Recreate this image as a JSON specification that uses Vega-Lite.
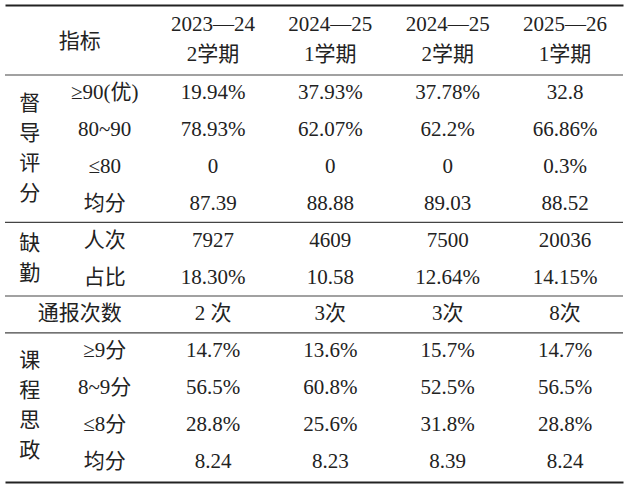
{
  "$schema": "https://vega.github.io/schema/vega-lite/v6.json",
  "width": 618,
  "height": 477,
  "autosize": {"type": "none"},
  "padding": {"left": 5, "right": 3, "top": 5, "bottom": 2},
  "background": "white",
  "config": {
    "view": {"stroke": null},
    "text": {"font": "'Liberation Serif', 'Noto Sans CJK SC'", "fontSize": 21, "color": "#222", "baseline": "middle", "align": "center"}
  },
  "datasets": {
    "cells": [
      {"row": 0, "col": 0, "kind": "corner", "t": "指标"},
      {"row": 0, "col": 1, "kind": "head", "t": "2023—24\n2学期"},
      {"row": 0, "col": 2, "kind": "head", "t": "2024—25\n1学期"},
      {"row": 0, "col": 3, "kind": "head", "t": "2024—25\n2学期"},
      {"row": 0, "col": 4, "kind": "head", "t": "2025—26\n1学期"},

      {"row": 2.5, "col": 0, "kind": "group4", "t": "督\n导\n评\n分"},
      {"row": 5.5, "col": 0, "kind": "group2", "t": "缺\n勤"},
      {"row": 9.5, "col": 0, "kind": "group4", "t": "课\n程\n思\n政"},
      {"row": 7, "col": 0, "kind": "span", "t": "通报次数"},

      {"row": 1, "col": 0, "kind": "sub", "t": "≥90(优)"},
      {"row": 2, "col": 0, "kind": "sub", "t": "80~90"},
      {"row": 3, "col": 0, "kind": "sub", "t": "≤80"},
      {"row": 4, "col": 0, "kind": "sub", "t": "均分"},
      {"row": 5, "col": 0, "kind": "sub", "t": "人次"},
      {"row": 6, "col": 0, "kind": "sub", "t": "占比"},
      {"row": 8, "col": 0, "kind": "sub", "t": "≥9分"},
      {"row": 9, "col": 0, "kind": "sub", "t": "8~9分"},
      {"row": 10, "col": 0, "kind": "sub", "t": "≤8分"},
      {"row": 11, "col": 0, "kind": "sub", "t": "均分"},

      {"row": 1, "col": 1, "kind": "data", "t": "19.94%"},
      {"row": 1, "col": 2, "kind": "data", "t": "37.93%"},
      {"row": 1, "col": 3, "kind": "data", "t": "37.78%"},
      {"row": 1, "col": 4, "kind": "data", "t": "32.8"},
      {"row": 2, "col": 1, "kind": "data", "t": "78.93%"},
      {"row": 2, "col": 2, "kind": "data", "t": "62.07%"},
      {"row": 2, "col": 3, "kind": "data", "t": "62.2%"},
      {"row": 2, "col": 4, "kind": "data", "t": "66.86%"},
      {"row": 3, "col": 1, "kind": "data", "t": "0"},
      {"row": 3, "col": 2, "kind": "data", "t": "0"},
      {"row": 3, "col": 3, "kind": "data", "t": "0"},
      {"row": 3, "col": 4, "kind": "data", "t": "0.3%"},
      {"row": 4, "col": 1, "kind": "data", "t": "87.39"},
      {"row": 4, "col": 2, "kind": "data", "t": "88.88"},
      {"row": 4, "col": 3, "kind": "data", "t": "89.03"},
      {"row": 4, "col": 4, "kind": "data", "t": "88.52"},
      {"row": 5, "col": 1, "kind": "data", "t": "7927"},
      {"row": 5, "col": 2, "kind": "data", "t": "4609"},
      {"row": 5, "col": 3, "kind": "data", "t": "7500"},
      {"row": 5, "col": 4, "kind": "data", "t": "20036"},
      {"row": 6, "col": 1, "kind": "data", "t": "18.30%"},
      {"row": 6, "col": 2, "kind": "data", "t": "10.58"},
      {"row": 6, "col": 3, "kind": "data", "t": "12.64%"},
      {"row": 6, "col": 4, "kind": "data", "t": "14.15%"},
      {"row": 7, "col": 1, "kind": "data", "t": "2 次"},
      {"row": 7, "col": 2, "kind": "data", "t": "3次"},
      {"row": 7, "col": 3, "kind": "data", "t": "3次"},
      {"row": 7, "col": 4, "kind": "data", "t": "8次"},
      {"row": 8, "col": 1, "kind": "data", "t": "14.7%"},
      {"row": 8, "col": 2, "kind": "data", "t": "13.6%"},
      {"row": 8, "col": 3, "kind": "data", "t": "15.7%"},
      {"row": 8, "col": 4, "kind": "data", "t": "14.7%"},
      {"row": 9, "col": 1, "kind": "data", "t": "56.5%"},
      {"row": 9, "col": 2, "kind": "data", "t": "60.8%"},
      {"row": 9, "col": 3, "kind": "data", "t": "52.5%"},
      {"row": 9, "col": 4, "kind": "data", "t": "56.5%"},
      {"row": 10, "col": 1, "kind": "data", "t": "28.8%"},
      {"row": 10, "col": 2, "kind": "data", "t": "25.6%"},
      {"row": 10, "col": 3, "kind": "data", "t": "31.8%"},
      {"row": 10, "col": 4, "kind": "data", "t": "28.8%"},
      {"row": 11, "col": 1, "kind": "data", "t": "8.24"},
      {"row": 11, "col": 2, "kind": "data", "t": "8.23"},
      {"row": 11, "col": 3, "kind": "data", "t": "8.39"},
      {"row": 11, "col": 4, "kind": "data", "t": "8.24"}
    ],
    "lines": [
      {"after": 0.5},
      {"after": 4.5},
      {"after": 6.5},
      {"after": 7.5}
    ]
  },
  "encoding": {
    "x": {"field": "col", "type": "quantitative", "scale": {"domain": [-0.773, 4.494], "nice": false, "zero": false}, "axis": null},
    "y": {"field": "row", "type": "quantitative", "scale": {"domain": [-1.4, 11.55], "nice": false, "zero": false, "reverse": true}, "axis": null}
  },
  "layer": [
    {
      "data": {"name": "lines"},
      "mark": {"type": "rule", "stroke": "#444", "strokeWidth": 1.2},
      "encoding": {
        "x": null,
        "y": {"field": "after", "type": "quantitative", "axis": null}
      }
    },
    {
      "data": {"name": "cells"},
      "transform": [{"filter": "datum.kind == 'data'"}],
      "mark": {"type": "text"},
      "encoding": {
        "text": {"field": "t"},
        "x": {"field": "col", "type": "quantitative", "axis": {"orient": "top", "domain": true, "domainWidth": 2, "domainColor": "#222", "labels": false, "ticks": false, "grid": false, "title": null}}
      }
    },
    {
      "data": {"name": "cells"},
      "transform": [{"filter": "datum.kind == 'head'"}],
      "mark": {"type": "text", "lineBreak": "\n", "lineHeight": 30, "dy": -31.5},
      "encoding": {
        "text": {"field": "t"},
        "x": {"field": "col", "type": "quantitative", "axis": {"orient": "bottom", "domain": true, "domainWidth": 2, "domainColor": "#222", "labels": false, "ticks": false, "grid": false, "title": null}}
      }
    },
    {
      "data": {"name": "cells"},
      "transform": [{"filter": "datum.kind == 'corner'"}],
      "mark": {"type": "text", "dx": -16, "dy": -15},
      "encoding": {"text": {"field": "t"}}
    },
    {
      "data": {"name": "cells"},
      "transform": [{"filter": "datum.kind == 'span'"}],
      "mark": {"type": "text", "dx": -16},
      "encoding": {"text": {"field": "t"}}
    },
    {
      "data": {"name": "cells"},
      "transform": [{"filter": "datum.kind == 'group4'"}],
      "mark": {"type": "text", "lineBreak": "\n", "lineHeight": 30, "dx": -66, "dy": -45},
      "encoding": {"text": {"field": "t"}}
    },
    {
      "data": {"name": "cells"},
      "transform": [{"filter": "datum.kind == 'group2'"}],
      "mark": {"type": "text", "lineBreak": "\n", "lineHeight": 30, "dx": -66, "dy": -15},
      "encoding": {"text": {"field": "t"}}
    },
    {
      "data": {"name": "cells"},
      "transform": [{"filter": "datum.kind == 'sub'"}],
      "mark": {"type": "text", "dx": 9},
      "encoding": {"text": {"field": "t"}}
    }
  ],
  "resolve": {"axis": {"x": "independent"}}
}
